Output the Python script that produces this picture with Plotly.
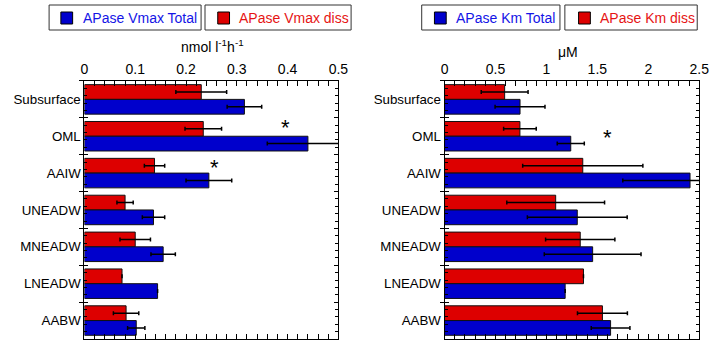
import plotly.graph_objects as go

categories = ["Subsurface", "OML", "AAIW", "UNEADW", "MNEADW", "LNEADW", "AABW"]

vmax_total = [0.315, 0.44, 0.245, 0.136, 0.155, 0.144, 0.102]
vmax_total_err = [0.034, 0.08, 0.045, 0.022, 0.024, None, 0.017]
vmax_diss = [0.23, 0.234, 0.138, 0.080, 0.100, 0.074, 0.082]
vmax_diss_err = [0.05, 0.036, 0.02, 0.016, 0.03, None, 0.025]

km_total = [0.741, 1.239, 2.41, 1.303, 1.454, 1.184, 1.63]
km_total_err = [0.245, 0.133, 0.66, 0.49, 0.475, None, 0.19]
km_diss = [0.59, 0.74, 1.357, 1.091, 1.332, 1.364, 1.55]
km_diss_err = [0.23, 0.16, 0.59, 0.48, 0.34, None, 0.245]

vmax_stars_cat = ["OML", "AAIW"]
vmax_stars_x = [0.395, 0.257]
km_stars_cat = ["OML"]
km_stars_x = [1.595]

BLUE = "#0000CC"
RED = "#DD0000"
FONT = "Liberation Sans, Arial, sans-serif"

fig = go.Figure()

def add_pair(diss, diss_err, total, total_err, xa, ya):
    fig.add_trace(go.Bar(
        y=categories, x=diss, orientation="h", xaxis=xa, yaxis=ya,
        marker=dict(color=RED, line=dict(color="#111111", width=1)),
        error_x=dict(type="data", array=[e if e is not None else 0 for e in diss_err],
                     visible=True, color="black", thickness=1.5, width=2),
        showlegend=False, offsetgroup="d"))
    fig.add_trace(go.Bar(
        y=categories, x=total, orientation="h", xaxis=xa, yaxis=ya,
        marker=dict(color=BLUE, line=dict(color="#111111", width=1)),
        error_x=dict(type="data", array=[e if e is not None else 0 for e in total_err],
                     visible=True, color="black", thickness=1.5, width=2),
        showlegend=False, offsetgroup="t"))

add_pair(vmax_diss, vmax_diss_err, vmax_total, vmax_total_err, "x", "y")
add_pair(km_diss, km_diss_err, km_total, km_total_err, "x2", "y2")

ydom = [0.0117, 0.764]
left_dom = [0.1141, 0.4743]
right_dom = [0.6249, 0.9861]

def xaxis_cfg(dom, rng, dtick, minor_dtick, anchor):
    return dict(domain=dom, range=rng, side="top", anchor=anchor,
                tickmode="linear", tick0=0, dtick=dtick,
                ticks="inside", ticklen=5, tickcolor="black", tickwidth=1,
                minor=dict(dtick=minor_dtick, ticks="inside", ticklen=3, tickcolor="black", tickwidth=1),
                showline=True, linecolor="black", linewidth=1, mirror="allticks",
                showgrid=False, zeroline=False,
                tickfont=dict(family=FONT, size=14, color="black"))

def ycat_cfg(anchor):
    return dict(domain=ydom, anchor=anchor, type="category", range=[6.5, -0.5],
                tickson="boundaries", ticks="outside", ticklen=4, tickcolor="black",
                showline=True, linecolor="black", linewidth=1, mirror=True,
                showgrid=False, zeroline=False,
                tickfont=dict(family=FONT, size=13.3, color="black"))

def yminor_cfg(anchor, overlay):
    return dict(domain=ydom, anchor=anchor, overlaying=overlay, range=[6.5, -0.5],
                tickmode="linear", tick0=-0.5, dtick=1, ticks="inside", ticklen=4,
                tickcolor="black", mirror="allticks", showline=False,
                showticklabels=False, showgrid=False, zeroline=False,
                minor=dict(dtick=0.2, tick0=-0.5, ticks="inside", ticklen=3, tickcolor="black"))

fig.update_layout(
    xaxis=xaxis_cfg(left_dom, [0, 0.5], 0.1, 0.02, "y"),
    yaxis=ycat_cfg("x"),
    xaxis2=xaxis_cfg(right_dom, [0, 2.5], 0.5, 0.1, "y2"),
    yaxis2=ycat_cfg("x2"),
    yaxis3=yminor_cfg("x", "y"),
    yaxis4=yminor_cfg("x2", "y2"),
)
# dummy traces to activate overlay axes
fig.add_trace(go.Scatter(x=[None], y=[None], xaxis="x", yaxis="y3", showlegend=False))
fig.add_trace(go.Scatter(x=[None], y=[None], xaxis="x2", yaxis="y4", showlegend=False))

fig.update_layout(
    width=719, height=343, margin=dict(l=0, r=0, t=0, b=0),
    paper_bgcolor="white", plot_bgcolor="white",
    barmode="group", bargap=0.2, bargroupgap=0.0,
    font=dict(family=FONT, size=13, color="black"),
)

annotations = []
shapes = []

# axis titles
annotations.append(dict(text="nmol l<sup>-1</sup>h<sup>-1</sup>", x=213 / 719, y=1 - 46 / 343,
                        xref="paper", yref="paper", xanchor="center", yanchor="middle",
                        showarrow=False, font=dict(family=FONT, size=14, color="black")))
annotations.append(dict(text="μM", x=575 / 719, y=1 - 52 / 343,
                        xref="paper", yref="paper", xanchor="center", yanchor="middle",
                        showarrow=False, font=dict(family=FONT, size=14, color="black")))

# asterisks
for c, xv, ys in zip(vmax_stars_cat, vmax_stars_x, [9, 6]):
    annotations.append(dict(text="*", x=xv, y=c, xref="x", yref="y", yshift=ys,
                            showarrow=False, font=dict(family=FONT, size=22, color="black")))
for c, xv in zip(km_stars_cat, km_stars_x):
    annotations.append(dict(text="*", x=xv, y=c, xref="x2", yref="y2", yshift=-1,
                            showarrow=False, font=dict(family=FONT, size=22, color="black")))

# legend boxes
legend_items = [
    (46, 201, 58, 79, BLUE, "#1414E6", "APase Vmax Total"),
    (205, 354, 218, 238, RED, "#E61414", "APase Vmax diss"),
    (426, 567, 439, 459, BLUE, "#1414E6", "APase Km Total"),
    (572, 707, 586, 606, RED, "#E61414", "APase Km diss"),
]
for x0, x1, sq, tx, fill, tcol, label in legend_items:
    shapes.append(dict(type="rect", xref="paper", yref="paper",
                       x0=x0 / 719, x1=x1 / 719, y0=1 - 30 / 343, y1=1 - 5 / 343,
                       line=dict(color="#333333", width=1), fillcolor="white"))
    shapes.append(dict(type="rect", xref="paper", yref="paper",
                       x0=sq / 719, x1=(sq + 12) / 719, y0=1 - 24 / 343, y1=1 - 12 / 343,
                       line=dict(color="black", width=1), fillcolor=fill))
    annotations.append(dict(text=label, x=tx / 719, y=1 - 18 / 343, xref="paper", yref="paper",
                            xanchor="left", yanchor="middle", showarrow=False,
                            font=dict(family=FONT, size=14, color=tcol)))

fig.update_layout(annotations=annotations, shapes=shapes)

fig.write_html("out.html")
